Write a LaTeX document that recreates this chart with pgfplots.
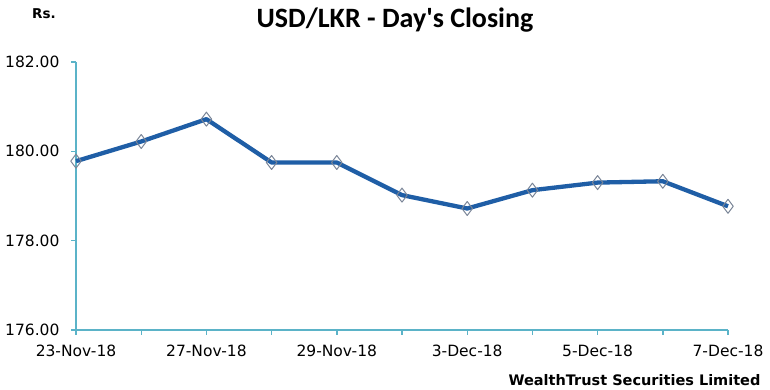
\documentclass[border=0pt]{standalone}
\usepackage{pgfplots}
\pgfplotsset{compat=1.18}
\usepackage{fontspec}
\setmainfont{DejaVu Sans}
\newfontfamily\titlefont{Carlito}
\definecolor{lineblue}{HTML}{1F5EA6}
\definecolor{axteal}{HTML}{5BB3C8}
\definecolor{markgray}{HTML}{7A8597}
\begin{document}
\begin{tikzpicture}[x=1pt,y=1pt]
\useasboundingbox (0,0) rectangle (770,390);
\begin{axis}[
  at={(76pt,60pt)}, anchor=origin,
  scale only axis, width=652pt, height=268pt,
  xmin=0, xmax=10, ymin=176, ymax=182,
  axis x line*=bottom, axis y line*=left,
  axis line style={axteal, line width=2pt, -},
  xtick={0,...,10},
  xticklabels={23-Nov-18,,27-Nov-18,,29-Nov-18,,3-Dec-18,,5-Dec-18,,7-Dec-18},
  ytick={176,178,180,182},
  yticklabels={176.00,178.00,180.00,182.00},
  tick style={axteal, line width=1.4pt},
  major tick length=5pt,
  tick align=outside,
  xtick pos=bottom, ytick pos=left,
  x tick label style={font=\fontsize{15.5}{16}\selectfont, yshift=-6pt},
  y tick label style={font=\fontsize{15.5}{16}\selectfont, xshift=-8pt},
  clip=false,
]
\addplot[lineblue, line width=4.3pt, line join=round,
  mark=diamond, mark size=7pt,
  mark options={draw=markgray, fill=none, line width=1pt, solid}]
coordinates {
(0,179.78) (1,180.22) (2,180.72) (3,179.75) (4,179.75) (5,179.02)
(6,178.72) (7,179.13) (8,179.30) (9,179.33) (10,178.77)
};
\end{axis}
\node[font=\titlefont\bfseries\fontsize{28}{29}\selectfont] at (395,370) {USD/LKR - Day's Closing};
\node[font=\bfseries\fontsize{13.5}{14}\selectfont] at (44,376) {Rs.};
\node[font=\bfseries\fontsize{14.5}{15}\selectfont, anchor=east] at (764,10) {WealthTrust Securities Limited};
\end{tikzpicture}
\end{document}
